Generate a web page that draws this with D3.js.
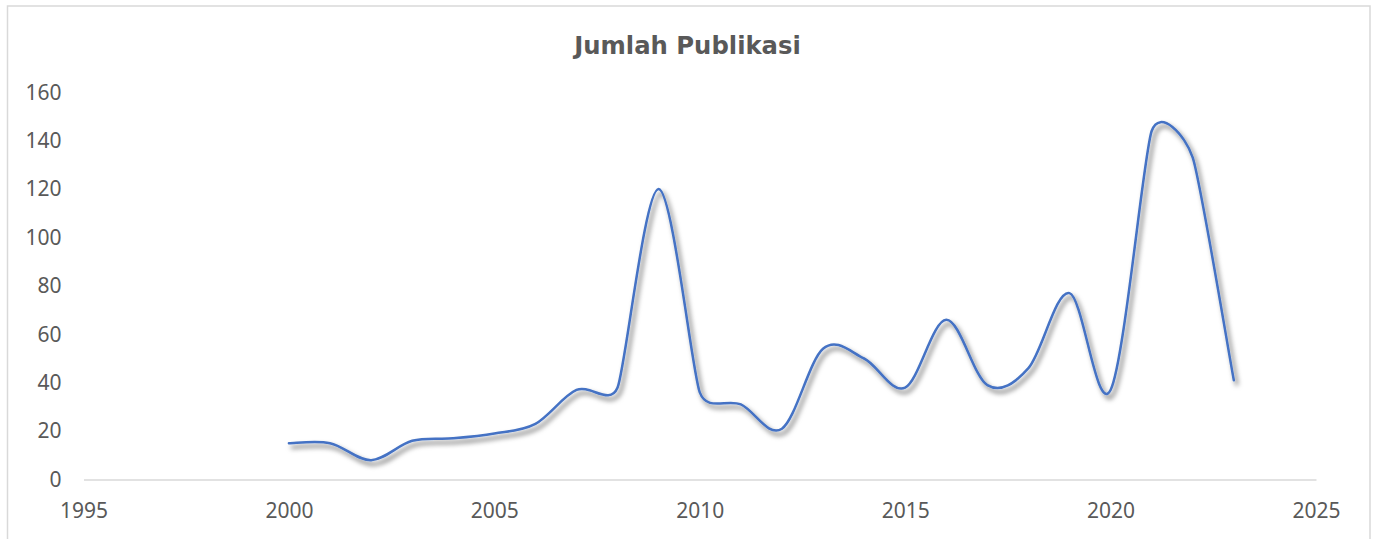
<!DOCTYPE html>
<html>
<head>
<meta charset="utf-8">
<script src="https://cdn.jsdelivr.net/npm/d3@7"></script>
<style>
  html, body { margin: 0; padding: 0; background: #fff; }
  svg { display: block; }
</style>
</head>
<body>
<svg id="chart" width="1373" height="539"></svg>
<script>
const years  = [2000, 2001, 2002, 2003, 2004, 2005, 2006, 2007, 2008, 2009, 2010, 2011,
                2012, 2013, 2014, 2015, 2016, 2017, 2018, 2019, 2020, 2021, 2022, 2023];
const counts = [15, 15, 8, 16, 17, 19, 23, 37, 38, 120, 36, 31,
                21, 54, 50, 38, 66, 39, 46, 77, 37, 144, 133, 41];
const xTicks = [1995, 2000, 2005, 2010, 2015, 2020, 2025];
const yTicks = [0, 20, 40, 60, 80, 100, 120, 140, 160];
const title = "Jumlah Publikasi";

const svg = d3.select("#chart");
const W = 1373, H = 539;

svg.append("rect")
  .attr("x", 7.5).attr("y", 6).attr("width", 1362.5).attr("height", H)
  .attr("fill", "none").attr("stroke", "#d9d9d9").attr("stroke-width", 1.5);

const x = d3.scaleLinear().domain([1995, 2025]).range([83.5, 1316]);
const y = d3.scaleLinear().domain([0, 160]).range([479.5, 92.3]);

const defs = svg.append("defs");
const f = defs.append("filter").attr("id", "shadow")
  .attr("x", "-5%").attr("y", "-5%").attr("width", "110%").attr("height", "110%");
f.append("feGaussianBlur").attr("in", "SourceAlpha").attr("stdDeviation", 2.6).attr("result", "b");
f.append("feOffset").attr("in", "b").attr("dx", 2.5).attr("dy", 3.5).attr("result", "o");
f.append("feFlood").attr("flood-color", "#000").attr("flood-opacity", 0.6).attr("result", "c");
f.append("feComposite").attr("in", "c").attr("in2", "o").attr("operator", "in").attr("result", "s");
const m = f.append("feMerge");
m.append("feMergeNode").attr("in", "s");
m.append("feMergeNode").attr("in", "SourceGraphic");

const xAxis = svg.append("g")
  .attr("transform", `translate(0,${y(0)})`)
  .call(d3.axisBottom(x).tickValues(xTicks).tickFormat(d3.format("d")).tickSize(0).tickPadding(24));
xAxis.select(".domain").attr("stroke", "#d9d9d9").attr("stroke-width", 1.5);
xAxis.selectAll("text")
  .attr("fill", "#595959").style("font-family", "'Noto Sans', sans-serif").style("font-size", "21px");

const yAxis = svg.append("g")
  .attr("transform", `translate(${x(1995)},0)`)
  .call(d3.axisLeft(y).tickValues(yTicks).tickSize(0).tickPadding(22));
yAxis.select(".domain").remove();
yAxis.selectAll("text")
  .attr("fill", "#595959").style("font-family", "'Noto Sans', sans-serif").style("font-size", "21px");

svg.append("text")
  .attr("x", 687.5).attr("y", 54)
  .attr("text-anchor", "middle")
  .attr("fill", "#595959")
  .style("font-family", "'DejaVu Sans', sans-serif")
  .style("font-weight", "bold")
  .style("font-size", "24.3px")
  .text(title);

// Excel-style smoothed line: Bezier segments, tangent from neighbours (tension 1/6),
// tangent length limited to half of the adjacent segments.
function smoothPath(pts) {
  const p = d3.path();
  const n = pts.length;
  const dist = (a, b) => Math.hypot(b[0] - a[0], b[1] - a[1]);
  const ctrl = pts.map((pt, i) => {
    const prev = pts[Math.max(0, i - 1)], next = pts[Math.min(n - 1, i + 1)];
    const tx = next[0] - prev[0], ty = next[1] - prev[1];
    const tl = Math.hypot(tx, ty) || 1;
    let L = tl / 6;
    if (i > 0) L = Math.min(L, dist(prev, pt) / 2);
    if (i < n - 1) L = Math.min(L, dist(pt, next) / 2);
    const ux = tx / tl, uy = ty / tl;
    return { in: [pt[0] - ux * L, pt[1] - uy * L], out: [pt[0] + ux * L, pt[1] + uy * L] };
  });
  p.moveTo(pts[0][0], pts[0][1]);
  for (let i = 0; i < n - 1; i++) {
    const c1 = ctrl[i].out, c2 = ctrl[i + 1].in, e = pts[i + 1];
    p.bezierCurveTo(c1[0], c1[1], c2[0], c2[1], e[0], e[1]);
  }
  return p.toString();
}

const pts = years.map((yr, i) => [x(yr), y(counts[i])]);

svg.append("path")
  .attr("d", smoothPath(pts))
  .attr("fill", "none")
  .attr("stroke", "#4472c4")
  .attr("stroke-width", 2.5)
  .attr("stroke-linecap", "round")
  .attr("filter", "url(#shadow)");
</script>
</body>
</html>
